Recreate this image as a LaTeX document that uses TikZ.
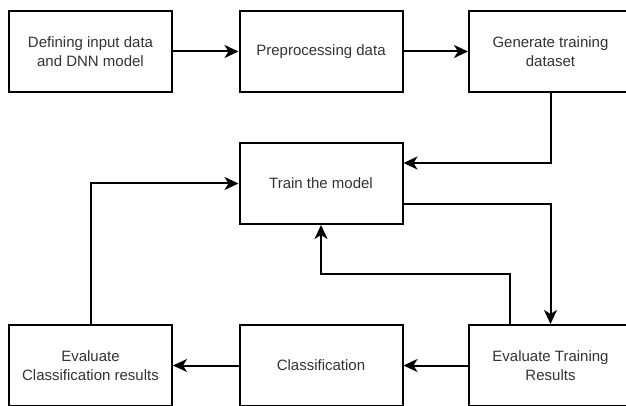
\documentclass[tikz,border=0pt]{standalone}
\usepackage{fontspec}
\setmainfont{Liberation Sans}
\usetikzlibrary{arrows.meta}

\begin{document}
\begin{tikzpicture}[x = 1pt, y = -1pt,
    box/.style = {draw, line width = 2pt, minimum width = 163pt,
                  minimum height = 81pt, inner sep = 0pt, align = center,
                  font = \fontsize{15}{19}\selectfont, text = black!80},
    flow/.style = {line width = 2pt,
                   -{Stealth[length = 14pt, width = 13pt, inset = 4pt]}}]
      \clip (0,0) rectangle (626,406);
      % top row
      \node [box] (define) at (90.5,51.5) {Defining input data\\and DNN model};
      \node [box] (prep) at (321,51.5) {Preprocessing data};
      \node [box] (gen) at (550.5,51.5) {Generate training\\dataset};
      % middle
      \node [box] (train) at (321,183.5) {Train the model};
      % bottom row
      \node [box] (evalclass) at (90.5,365.5) {Evaluate\\Classification results};
      \node [box] (classify) at (321,365.5) {Classification};
      \node [box] (evaltrain) at (550.5,365.5) {Evaluate Training\\Results};
      \draw [flow] (define) -- (prep);
      \draw [flow] (prep) -- (gen);
      \draw [flow] (gen.south) |- ([yshift = 20.5pt] train.east);
      \draw [flow] ([yshift = -20.5pt] train.east) -| (evaltrain.north);
      \draw [flow] ([xshift = -40.5pt] evaltrain.north) -- ++(0,-50) -| (train.south);
      \draw [flow] (evaltrain) -- (classify);
      \draw [flow] (classify) -- (evalclass);
      \draw [flow] (evalclass.north) |- (train.west);
    \end{tikzpicture}
\end{document}
